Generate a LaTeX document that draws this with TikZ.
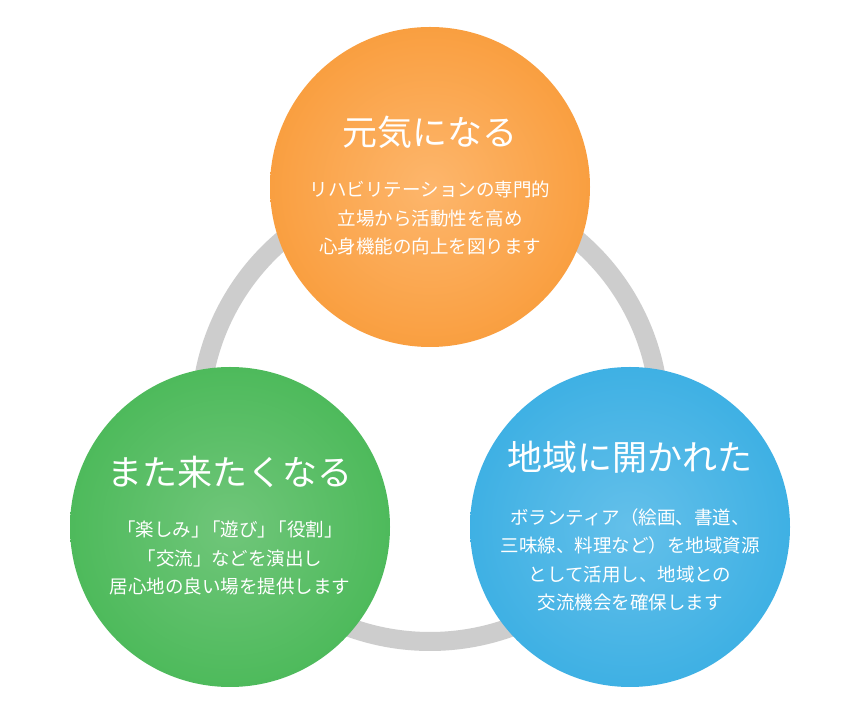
\documentclass[tikz,border=0pt]{standalone}
\usepackage{fontspec}
\newfontfamily\jp{Noto Sans CJK JP}
\usetikzlibrary{backgrounds}
\definecolor{Genkiorange}{RGB}{247,145,38}
\definecolor{Genkilight}{RGB}{253,182,108}
\definecolor{Matagreen}{RGB}{57,179,73}
\definecolor{Matalight}{RGB}{112,198,122}
\definecolor{Chiikiblue}{RGB}{40,167,224}
\definecolor{Chiikilight}{RGB}{100,192,234}
\definecolor{Ringgray}{RGB}{205,205,205}
\pgfdeclareradialshading{genkiball}{\pgfpoint{0bp}{0bp}}{color(0bp)=(Genkilight);color(40bp)=(Genkiorange);color(50bp)=(Genkiorange)}
\pgfdeclareradialshading{mataball}{\pgfpoint{0bp}{0bp}}{color(0bp)=(Matalight);color(40bp)=(Matagreen);color(50bp)=(Matagreen)}
\pgfdeclareradialshading{chiikiball}{\pgfpoint{0bp}{0bp}}{color(0bp)=(Chiikilight);color(40bp)=(Chiikiblue);color(50bp)=(Chiikiblue)}

\begin{document}
\begin{tikzpicture}[x=1pt, y=1pt,
    ball/.style={circle, minimum size=320pt, inner sep=0pt, shade, shading=#1},
    title/.style={text=white, font=\jp\fontsize{35}{40}\selectfont},
    body/.style={text=white, align=center, font=\jp\fontsize{18.5}{28.5}\selectfont},
    ring/.style={Ringgray, line width=19pt}]
            \useasboundingbox (0,0) rectangle (860,715);
            \node[ball=genkiball] (genki) at (430,528) {};
            \node[ball=mataball] (mata) at (230,188) {};
            \node[ball=chiikiball] (chiiki) at (630,188) {};

            \node[title] (genkiT) at ([yshift=55pt]genki.center) {元気になる};
            \node[body] (genkiB) at ([yshift=-31pt]genki.center) {リハビリテーションの専門的\\立場から活動性を高め\\心身機能の向上を図ります};
            \node[title] (mataT) at ([yshift=55pt]mata.center) {また来たくなる};
            \node[body] (mataB) at ([yshift=-31pt]mata.center) {「楽しみ」\kern-0.4em「遊び」\kern-0.4em「役割」\\「交流」などを演出し\\居心地の良い場を提供します};
            \node[title] (chiikiT) at ([yshift=70pt]chiiki.center) {地域に開かれた};
            \node[body] (chiikiB) at ([yshift=-33pt]chiiki.center) {ボランティア（絵画、書道、\\三味線、料理など）を地域資源\\として活用し、地域との\\交流機会を確保します};

            \begin{scope}[on background layer]
                \fill[white] (0,0) rectangle (860,715);
                \draw[ring] (genki.center) to[bend right=60, looseness=1.13] (mata.center)
                    to[bend right=60, looseness=1.13] (chiiki.center)
                    to[bend right=60, looseness=1.13] (genki.center);
            \end{scope}
        \end{tikzpicture}
\end{document}
